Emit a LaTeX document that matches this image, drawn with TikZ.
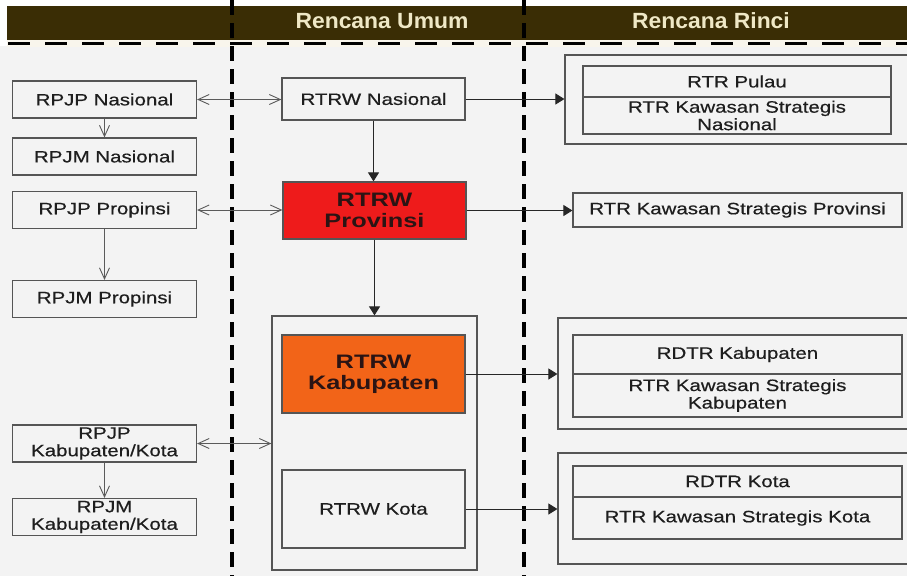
\documentclass[tikz,border=0pt]{standalone}
\usepackage{fontspec}
\setmainfont{Liberation Sans}
\newfontfamily\bodyf[FakeStretch=1.24,FakeBold=0.5]{Liberation Sans}
\newfontfamily\boldf[FakeStretch=1.3]{Liberation Sans}
\newfontfamily\headf[FakeStretch=1.04]{Liberation Sans}
\usetikzlibrary{arrows.meta}
\definecolor{bg}{HTML}{F3F3F3}
\definecolor{band}{HTML}{3A2D05}
\definecolor{headtxt}{HTML}{EFE8C6}
\definecolor{strip}{HTML}{F8F5EC}
\definecolor{linec}{HTML}{5A5A5A}
\definecolor{boxc}{HTML}{555555}
\definecolor{txt}{HTML}{1E1E1E}
\definecolor{redc}{HTML}{EE1B1B}
\definecolor{orc}{HTML}{F26418}
\definecolor{boldtxt}{HTML}{2B1414}
\tikzset{
  box/.style={draw=boxc, line width=1.2pt, fill=bg, inner sep=0pt, align=center,
    text=txt, font={\bodyf\fontsize{16.5}{17.5}\selectfont}},
  lbox/.style={box, minimum width=184pt, minimum height=37pt},
  boldtext/.style={text=boldtxt, font={\boldf\bfseries\fontsize{19.5}{21}\selectfont}},
  headtext/.style={inner sep=0pt, anchor=base, text=headtxt, font={\headf\bfseries\fontsize{22}{24}\selectfont}},
  dbl/.style={draw=linec, line width=0.9pt, >={Straight Barb[length=11pt,width=10pt]}, <->},
  sgl/.style={draw=linec, line width=0.9pt, >={Straight Barb[length=11pt,width=10pt]}, ->},
  fa/.style={draw=black!85, line width=1pt, -{Triangle[length=9pt,width=11pt]}},
  vdash/.style={draw=black, line width=3.5pt, dash pattern=on 15pt off 8pt},
  hdash/.style={draw=black, line width=3.5pt, dash pattern=on 22pt off 15pt}
}
\begin{document}
\begin{tikzpicture}[x=1pt,y=-1pt]
\useasboundingbox (0,0) rectangle (907,576);
\clip (0,0) rectangle (907,576);
% background and header
\fill[white] (0,0) rectangle (907,576);
\fill[bg] (0,46) rectangle (907,576);
\fill[band] (7,6) rectangle (907,40);
\fill[strip] (7,40) rectangle (907,47);
\node[headtext] (hu) at (382,28) {Rencana Umum};
\node[headtext] (hr) at (711,28) {Rencana Rinci};
% dashed separators
\draw[hdash] (8,43.5) -- (907,43.5);
\draw[vdash] (232,0) -- (232,576);
\draw[vdash] (524,0) -- (524,576);
% left column
\node[lbox] (rpjpn) at (104.5,99.5) {RPJP Nasional};
\node[lbox] (rpjmn) at (104.5,156.5) {RPJM Nasional};
\node[lbox] (rpjpp) at (104.5,210) {RPJP Propinsi};
\node[lbox] (rpjmp) at (104.5,299) {RPJM Propinsi};
\node[lbox] (rpjpk) at (104.5,443.5) {RPJP\\Kabupaten/Kota};
\node[lbox] (rpjmk) at (104.5,517) {RPJM\\Kabupaten/Kota};
% middle column
\node[box, minimum width=205pt, minimum height=254pt] (kabc) at (374.5,443) {};
\node[box, minimum width=183pt, minimum height=42pt] (rtrwn) at (373.5,99) {RTRW Nasional};
\node[box, fill=redc, boldtext, minimum width=183pt, minimum height=57pt] (rtrwp) at (374.5,210.5) {RTRW\\Provinsi};
\node[box, fill=orc, boldtext, minimum width=183pt, minimum height=78pt] (rtrwk) at (373.5,374) {RTRW\\Kabupaten};
\node[box, minimum width=183pt, minimum height=78pt] (rtrwkota) at (373.5,509) {RTRW Kota};
% right column
\node[box, minimum width=350pt, minimum height=89pt] (c1) at (740,99.5) {};
\node[box, minimum width=308pt, minimum height=31pt] (pulau) at (737,81.5) {RTR Pulau};
\node[box, minimum width=308pt, minimum height=37pt] (ksn) at (737,115.5) {RTR Kawasan Strategis\\Nasional};
\node[box, minimum width=329pt, minimum height=34pt] (ksp) at (737.5,210) {RTR Kawasan Strategis Provinsi};
\node[box, minimum width=357pt, minimum height=111pt] (c2) at (736.5,373.5) {};
\node[box, minimum width=329pt, minimum height=39pt] (rdtrk) at (737.5,354.5) {RDTR Kabupaten};
\node[box, minimum width=329pt, minimum height=43pt] (ksk) at (737.5,395.5) {RTR Kawasan Strategis\\Kabupaten};
\node[box, minimum width=357pt, minimum height=111pt] (c3) at (736.5,508.5) {};
\node[box, minimum width=329pt, minimum height=31pt] (rdtrkota) at (737.5,481.5) {RDTR Kota};
\node[box, minimum width=329pt, minimum height=42pt] (kskota) at (737.5,518) {RTR Kawasan Strategis Kota};
% connectors
\draw[dbl] (rpjpn.east) -- (rpjpn.east -| rtrwn.west);
\draw[dbl] (rpjpp.east) -- (rpjpp.east -| rtrwp.west);
\draw[dbl] (rpjpk.east) -- (rpjpk.east -| kabc.west);
\draw[sgl] (rpjpn.south) -- (rpjmn.north);
\draw[sgl] (rpjpp.south) -- (rpjmp.north);
\draw[sgl] (rpjpk.south) -- (rpjmk.north);
\draw[fa] (rtrwn.south) -- (rtrwn.south |- rtrwp.north);
\draw[fa] (rtrwp.south) -- (rtrwp.south |- kabc.north);
\draw[fa] (rtrwn.east) -- (rtrwn.east -| c1.west);
\draw[fa] (rtrwp.east) -- (rtrwp.east -| ksp.west);
\draw[fa] (rtrwk.east) -- (rtrwk.east -| c2.west);
\draw[fa] (rtrwkota.east) -- (rtrwkota.east -| c3.west);
\end{tikzpicture}
\end{document}
